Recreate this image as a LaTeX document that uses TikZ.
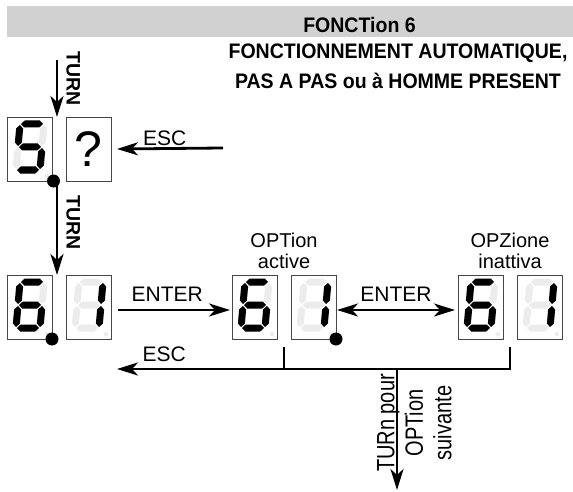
\documentclass[tikz,border=0pt]{standalone}
\usepackage{fontspec}
\setmainfont{Liberation Sans}
\usepackage{tikz}
\usetikzlibrary{arrows.meta,positioning,calc}
\definecolor{bargrey}{RGB}{209, 209, 209}
\definecolor{segoff}{RGB}{236, 236, 236}
\definecolor{boxedge}{RGB}{70, 70, 70}

% one segment of a display digit: horizontal and vertical
\newcommand{\hseg}[4]{\fill[#4] ({#1+1},#3) -- ({#1+4.5},{#3-3.5}) -- ({#2-4.5},{#3-3.5}) -- ({#2-1},#3) -- ({#2-4.5},{#3+3.5}) -- ({#1+4.5},{#3+3.5}) -- cycle;}
\newcommand{\vseg}[4]{\fill[#4] (#1,{#2+1}) -- ({#1+3.5},{#2+4.5}) -- ({#1+3.5},{#3-4.5}) -- (#1,{#3-1}) -- ({#1-3.5},{#3-4.5}) -- ({#1-3.5},{#2+4.5}) -- cycle;}
\newcommand{\dsega}[1]{\hseg{11}{35}{-23}{#1}}
\newcommand{\dsegb}[1]{\vseg{35}{-23}{0}{#1}}
\newcommand{\dsegc}[1]{\vseg{35}{0}{23}{#1}}
\newcommand{\dsegd}[1]{\hseg{11}{35}{23}{#1}}
\newcommand{\dsege}[1]{\vseg{11}{0}{23}{#1}}
\newcommand{\dsegf}[1]{\vseg{11}{-23}{0}{#1}}
\newcommand{\dsegg}[1]{\hseg{11}{35}{0}{#1}}
% seven-segment digit inside a display box: box name, lit segments
\newcommand{\segdigit}[2]{%
  \begin{scope}[shift={($(#1.west)+(0,-2)$)}, xslant=0.087]
    \foreach \s in {a,b,c,d,e,f,g} {\csname dseg\s\endcsname{segoff}}
    \foreach \s in {#2} {\csname dseg\s\endcsname{black}}
  \end{scope}
  \fill[segoff] ($(#1.south east)+(-5,-5)$) circle (2.2pt);}

\begin{document}
\begin{tikzpicture}[x=1pt, y=-1pt,
    dispbox/.style={draw=boxedge, line width=0.9pt, minimum width=45pt, minimum height=64pt, inner sep=0pt, outer sep=0pt},
    bigdot/.style={circle, fill=black, minimum size=13pt, inner sep=0pt},
    arr/.style={line width=2.8pt, -{Stealth[length=21pt,width=13pt,inset=6pt]}},
    arrboth/.style={line width=2.8pt, {Stealth[length=21pt,width=13pt,inset=6pt]}-{Stealth[length=21pt,width=13pt,inset=6pt]}},
    wire/.style={line width=2.8pt},
    keylbl/.style={font=\fontsize{21}{25}\selectfont, inner sep=0pt},
    turnlbl/.style={font=\fontsize{19.5}{22}\selectfont\bfseries, rotate=-90, anchor=south, inner xsep=0pt, inner ysep=8pt},
    optlbl/.style={font=\fontsize{20}{21.5}\selectfont, align=center, anchor=south, inner sep=0pt, yshift=6pt},
    titlelbl/.style={font=\fontsize{21}{30}\selectfont\bfseries, xscale=0.93, inner sep=0pt},
    nextlbl/.style={font=\fontsize{25}{28.5}\selectfont, align=center, rotate=90, xscale=0.8, anchor=north, inner sep=0pt}]
    \useasboundingbox (0,0) rectangle (573,492);

    % Heading
    \fill[bargrey] (7,6) rectangle (573,37);
    \node[titlelbl] (ftitle) at (359.5,24.5) {FONCTion 6};
    \node[titlelbl, align=center, anchor=north] (fsub) at (398,44) {FONCTIONNEMENT AUTOMATIQUE,\\PAS A PAS ou à HOMME PRESENT};

    % Row 1: function 5 ?
    \node[dispbox] (d5) at (29.5,149) {};
    \node[dispbox, font=\fontsize{50}{50}\selectfont] (dq) at (88.5,149) {?};
    \segdigit{d5}{a,f,g,c,d}
    \node[bigdot] (dot5) at ([xshift=1.5pt]d5.south east) {};

    % Row 2: function 6, option 1
    \node[dispbox] (d6a) at (29.5,307) {};
    \node[dispbox] (d1a) at (88.5,307) {};
    \node[dispbox] (d6b) at (254.5,307) {};
    \node[dispbox] (d1b) at (313.5,307) {};
    \node[dispbox] (d6c) at (480.5,307) {};
    \node[dispbox] (d1c) at (539.5,307) {};
    \segdigit{d6a}{a,f,g,e,d,c}
    \segdigit{d1a}{b,c}
    \segdigit{d6b}{a,f,g,e,d,c}
    \segdigit{d1b}{b,c}
    \segdigit{d6c}{a,f,g,e,d,c}
    \segdigit{d1c}{b,c}
    \node[bigdot] (dot6) at (d6a.south east) {};
    \node[bigdot] (dotopt) at (d1b.south east) {};

    % Labels over the option displays
    \node[optlbl] (optact) at ($(d6b.north east)!0.5!(d1b.north west)$) {OPTion\\active};
    \node[optlbl] (optoff) at ($(d6c.north east)!0.5!(d1c.north west)$) {OPZione\\inattiva};

    % TURN and ESC on the first row
    \coordinate (turnin) at (57,60);
    \coordinate (escin) at (223,148);
    \draw[arr] (turnin) -- (turnin |- d5.north) node[pos=0.33, turnlbl] {TURN};
    \draw[arr] (escin) -- ([xshift=6pt]dq.east) node[pos=0.55, above=1.4pt, keylbl] {ESC};
    \draw[arr] ([xshift=3.5pt]dot5.center) -- ([xshift=3.5pt]dot5.center |- d6a.north) node[pos=0.44, turnlbl] {TURN};

    % ENTER between the displays
    \draw[arr] ([xshift=7pt,yshift=-3pt]d1a.east) -- ([xshift=-2pt,yshift=-3pt]d6b.west) node[pos=0.44, above=7pt, keylbl] {ENTER};
    \draw[arrboth] ([xshift=1pt,yshift=-3pt]d1b.east) -- ([xshift=-3pt,yshift=-3pt]d6c.west) node[midway, above=7pt, keylbl] {ENTER};

    % ESC back and TURN to the next option
    \coordinate (brB) at ($(d6b.south east)!0.5!(d1b.south west)+(0,8)$);
    \coordinate (brC) at ($(d6c.south east)!0.5!(d1c.south west)+(0,8)$);
    \coordinate (escout) at (117,369);
    \coordinate (nextin) at (397,369);
    \coordinate (nextout) at (397,490);
    \draw[wire] (brB) -- (brB |- escout);
    \draw[arr] (brC) |- (escout) node[pos=0.94, above=6pt, keylbl] {ESC};
    \draw[arr] (nextin) -- (nextout);
    \node[nextlbl] (nexttxt) at (377,423) {TURn pour\\OPTion\\suivante};
\end{tikzpicture}
\end{document}
